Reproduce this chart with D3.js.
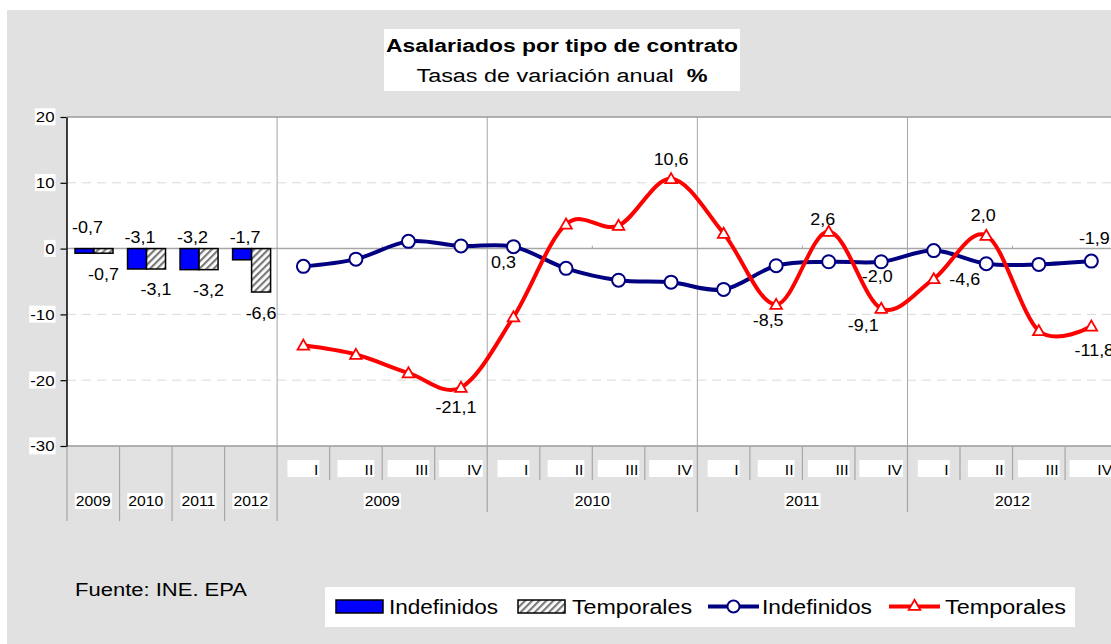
<!DOCTYPE html>
<html>
<head>
<meta charset="utf-8">
<script src="https://cdn.jsdelivr.net/npm/d3@7"></script>
<style>
  html, body { margin: 0; padding: 0; background: #fff; }
  svg { display: block; font-family: "Liberation Sans", Arial, sans-serif; }
</style>
</head>
<body>
<svg id="chart" width="1111" height="644"></svg>
<script>
'use strict';
// ---- data ----
const years = ['2009', '2010', '2011', '2012'];
const quarters = ['I', 'II', 'III', 'IV'];
const annualIndef = [-0.7, -3.1, -3.2, -1.7];
const annualTemp = [-0.7, -3.1, -3.2, -6.6];
const quarterIndef = [-2.7, -1.6, 1.1, 0.4, 0.3, -3.0, -4.8, -5.1, -6.2, -2.6, -2.0, -2.0, -0.3, -2.3, -2.4, -1.9];
const quarterTemp = [-14.7, -16.1, -18.9, -21.1, -10.4, 3.7, 3.5, 10.6, 2.3, -8.5, 2.6, -9.1, -4.6, 2.0, -12.5, -11.8];
const yTicks = [-30, -20, -10, 0, 10, 20];

// which line points carry a value label, and where it sits (offset from point)
const lineLabels = [
  { s: 'temp', q: 3, dx: -5, dy: 20 },
  { s: 'temp', q: 7, dx: 0, dy: -19 },
  { s: 'temp', q: 9, dx: -8, dy: 16 },
  { s: 'temp', q: 10, dx: -6, dy: -12 },
  { s: 'temp', q: 11, dx: -18, dy: 17 },
  { s: 'temp', q: 12, dx: 31, dy: 1 },
  { s: 'temp', q: 13, dx: -3, dy: -20 },
  { s: 'temp', q: 15, dx: 3, dy: 24 },
  { s: 'ind', q: 4, dx: -10, dy: 16 },
  { s: 'ind', q: 11, dx: -4, dy: 15 },
  { s: 'ind', q: 15, dx: 3, dy: -23 }
];

const W = 1111, H = 644;
const PLOT_L = 67, PLOT_T = 117, PLOT_B = 446, STEP = 52.53;
const NAVY = '#000080', RED = '#ff0000';
const STRETCH = 1.12;   // the reference text is a bit wider than plain Arial

const fmt = v => d3.format('.1f')(v).replace('.', ',').replace('\u2212', '-');

function stretch(sel, k = STRETCH) {
  sel.each(function() {
    const w = this.getComputedTextLength();
    this.setAttribute('textLength', w * k);
    this.setAttribute('lengthAdjust', 'spacingAndGlyphs');
  });
  return sel;
}
function fitTo(sel, len) {
  sel.attr('textLength', len).attr('lengthAdjust', 'spacingAndGlyphs');
  return sel;
}

// text with a white box behind it
function boxedText(g, txt, x, y, size, anchor, pad) {
  const r = g.append('rect').attr('fill', '#fff');
  const t = g.append('text')
    .attr('x', x).attr('y', y)
    .attr('font-size', size)
    .attr('text-anchor', anchor)
    .text(txt);
  stretch(t);
  const b = t.node().getBBox();
  r.attr('x', b.x - pad[0]).attr('y', b.y + pad[1])
    .attr('width', b.width + pad[0] + pad[2])
    .attr('height', b.height - pad[1] + pad[3]);
  return t;
}

const svg = d3.select('#chart');

// background
svg.append('rect')
  .attr('x', 7).attr('y', 10)
  .attr('width', W - 7).attr('height', H - 10)
  .attr('fill', '#e1e1e1');

const defs = svg.append('defs');
const pat = defs.append('pattern')
  .attr('id', 'hatch')
  .attr('patternUnits', 'userSpaceOnUse')
  .attr('width', 5).attr('height', 5)
  .attr('patternTransform', 'rotate(45)');
pat.append('rect').attr('width', 5).attr('height', 5).attr('fill', '#fff');
pat.append('line')
  .attr('x1', 1).attr('y1', 0).attr('x2', 1).attr('y2', 5)
  .attr('stroke', '#7a7a7a').attr('stroke-width', 2.4);

// scales
const x = d3.scaleBand().domain(d3.range(20)).range([PLOT_L, PLOT_L + 20 * STEP]);
const y = d3.scaleLinear().domain([-30, 20]).range([PLOT_B, PLOT_T]);
const sub = d3.scaleBand().domain(['ind', 'temp']).range([8, 46]);
const qx = q => x(4 + q) + x.bandwidth() / 2;
const y0 = y(0);

// title
svg.append('rect')
  .attr('x', 384).attr('y', 29).attr('width', 356).attr('height', 62)
  .attr('fill', '#fff');
fitTo(svg.append('text')
  .attr('x', 562).attr('y', 52)
  .attr('text-anchor', 'middle')
  .attr('font-size', 18).attr('font-weight', 'bold')
  .text('Asalariados por tipo de contrato'), 352);
const sTitle = svg.append('text')
  .attr('x', 562).attr('y', 82)
  .attr('text-anchor', 'middle')
  .attr('font-size', 18)
  .attr('xml:space', 'preserve');
sTitle.append('tspan').text('Tasas de variación anual  ');
sTitle.append('tspan').attr('font-weight', 'bold').text('%');
fitTo(sTitle, 291);

// plot area
svg.append('rect')
  .attr('x', PLOT_L).attr('y', PLOT_T)
  .attr('width', W - PLOT_L).attr('height', PLOT_B - PLOT_T)
  .attr('fill', '#fff');

// dashed gridlines
svg.append('g').selectAll('line')
  .data(yTicks.filter(v => v !== 0 && v !== -30 && v !== 20))
  .join('line')
  .attr('x1', PLOT_L).attr('x2', W)
  .attr('y1', d => y(d)).attr('y2', d => y(d))
  .attr('stroke', '#d9d9d9').attr('stroke-width', 1)
  .attr('stroke-dasharray', '9,6');

// year separators inside the plot
const yearStarts = [4, 8, 12, 16];
svg.append('g').selectAll('line')
  .data(yearStarts)
  .join('line')
  .attr('x1', d => x(d)).attr('x2', d => x(d))
  .attr('y1', PLOT_T).attr('y2', PLOT_B)
  .attr('stroke', '#a6a6a6').attr('stroke-width', 1);

// top border and zero line
svg.append('line')
  .attr('x1', PLOT_L).attr('x2', W).attr('y1', PLOT_T).attr('y2', PLOT_T)
  .attr('stroke', '#9a9a9a').attr('stroke-width', 1.5);
svg.append('line')
  .attr('x1', PLOT_L).attr('x2', W).attr('y1', y0).attr('y2', y0)
  .attr('stroke', '#a6a6a6').attr('stroke-width', 1.5);
// mid-year ticks on the zero line
svg.append('g').selectAll('line')
  .data([6, 10, 14, 18])
  .join('line')
  .attr('x1', d => x(d)).attr('x2', d => x(d))
  .attr('y1', y0 - 3).attr('y2', y0)
  .attr('stroke', '#a6a6a6');

// category axis
svg.append('line')
  .attr('x1', PLOT_L).attr('x2', W).attr('y1', PLOT_B).attr('y2', PLOT_B)
  .attr('stroke', '#9a9a9a').attr('stroke-width', 1.5);
const sep = svg.append('g').attr('stroke', '#a6a6a6').attr('stroke-width', 1.2);
d3.range(0, 20).forEach(i => {
  let len;
  if (i <= 4) len = 75;
  else if (i % 4 === 0) len = 66;
  else len = 34;
  sep.append('line')
    .attr('x1', x(i)).attr('x2', x(i))
    .attr('y1', PLOT_B).attr('y2', PLOT_B + len);
});

const catG = svg.append('g');
years.forEach((yr, i) => {
  boxedText(catG, yr, x(i) + x.bandwidth() / 2, 506, 14, 'middle', [1, 0, 1, 0]);
});
years.forEach((yr, k) => {
  boxedText(catG, yr, x(4 + 4 * k) + 2 * STEP, 506, 14, 'middle', [1, 0, 1, 0]);
});
d3.range(16).forEach(q => {
  const cx = qx(q);
  const t = catG.append('text')
    .attr('font-size', 14).attr('text-anchor', 'end')
    .attr('y', 475)
    .text(quarters[q % 4]);
  stretch(t);
  const tw = t.node().getComputedTextLength() * STRETCH;
  const bw = tw + 27;
  t.attr('x', cx + bw / 2 - 1);
  catG.insert('rect', 'text')
    .attr('x', cx - bw / 2).attr('y', 460)
    .attr('width', bw).attr('height', 17)
    .attr('fill', '#fff');
});

// y axis
const yAxis = svg.append('g')
  .attr('transform', `translate(${PLOT_L - 0.5},0)`)
  .call(d3.axisLeft(y).tickValues(yTicks).tickSize(6).tickSizeOuter(0).tickPadding(6)
    .tickFormat(d => String(d)));
yAxis.select('.domain').attr('stroke', '#000').attr('stroke-width', 1.5);
yAxis.selectAll('.tick line').attr('stroke', '#000').attr('stroke-width', 1.2);
yAxis.selectAll('.tick text')
  .attr('font-size', 15).attr('fill', '#000')
  .attr('font-family', '"Liberation Sans", Arial, sans-serif')
  .call(stretch);
yAxis.selectAll('.tick').each(function() {
  const t = d3.select(this).select('text');
  const b = t.node().getBBox();
  d3.select(this).insert('rect', 'text')
    .attr('x', b.x - 1).attr('y', b.y)
    .attr('width', b.width + 2).attr('height', b.height)
    .attr('fill', '#fff');
});

// annual bars
const bars = svg.append('g');
years.forEach((yr, i) => {
  const vi = annualIndef[i], vt = annualTemp[i];
  bars.append('rect')
    .attr('x', x(i) + sub('ind')).attr('width', sub.bandwidth())
    .attr('y', Math.min(y0, y(vi))).attr('height', Math.abs(y(vi) - y0))
    .attr('fill', '#0000ff').attr('stroke', '#000').attr('stroke-width', 1.5);
  bars.append('rect')
    .attr('x', x(i) + sub('temp')).attr('width', sub.bandwidth())
    .attr('y', Math.min(y0, y(vt))).attr('height', Math.abs(y(vt) - y0))
    .attr('fill', 'url(#hatch)').attr('stroke', '#000').attr('stroke-width', 1.5);
});
const barLabelLift = [21, 11, 11, 11];
years.forEach((yr, i) => {
  stretch(bars.append('text')
    .attr('x', x(i) + sub('ind') + sub.bandwidth() / 2 + 3)
    .attr('y', y0 - barLabelLift[i] + 5.5)
    .attr('text-anchor', 'middle').attr('font-size', 16)
    .text(fmt(annualIndef[i])));
  stretch(bars.append('text')
    .attr('x', x(i) + sub('temp') + sub.bandwidth() / 2)
    .attr('y', y(annualTemp[i]) + 26.5)
    .attr('text-anchor', 'middle').attr('font-size', 16)
    .text(fmt(annualTemp[i])));
});

// quarterly lines
const line = d3.line()
  .x((d, i) => qx(i))
  .y(d => y(d))
  .curve(d3.curveCardinal.tension(0));

const indG = svg.append('g');
indG.append('path')
  .attr('d', line(quarterIndef))
  .attr('fill', 'none').attr('stroke', NAVY).attr('stroke-width', 4)
  .attr('stroke-linejoin', 'round');
indG.selectAll('circle')
  .data(quarterIndef)
  .join('circle')
  .attr('cx', (d, i) => qx(i)).attr('cy', d => y(d))
  .attr('r', 6.5)
  .attr('fill', '#fff').attr('stroke', NAVY).attr('stroke-width', 2);

const triangle = d3.symbol().type(d3.symbolTriangle).size(58);
const tempG = svg.append('g');
tempG.append('path')
  .attr('d', line(quarterTemp))
  .attr('fill', 'none').attr('stroke', RED).attr('stroke-width', 4)
  .attr('stroke-linejoin', 'round');
tempG.selectAll('.mk')
  .data(quarterTemp)
  .join('path')
  .attr('class', 'mk')
  .attr('transform', (d, i) => `translate(${qx(i)},${y(d) + 1})`)
  .attr('d', triangle)
  .attr('fill', '#fff').attr('stroke', RED).attr('stroke-width', 1.8);

// line value labels
const series = { ind: quarterIndef, temp: quarterTemp };
const lblG = svg.append('g');
lineLabels.forEach(l => {
  const v = series[l.s][l.q];
  stretch(lblG.append('text')
    .attr('x', qx(l.q) + l.dx)
    .attr('y', y(v) + l.dy + 5.5)
    .attr('text-anchor', 'middle').attr('font-size', 16)
    .text(fmt(v)));
});

// source
fitTo(svg.append('text')
  .attr('x', 75).attr('y', 596)
  .attr('font-size', 18)
  .text('Fuente: INE. EPA'), 172);

// legend
const leg = svg.append('g');
leg.append('rect')
  .attr('x', 325).attr('y', 587).attr('width', 750).attr('height', 40)
  .attr('fill', '#fff');
const legendItems = [
  { kind: 'bar', fill: '#0000ff', label: 'Indefinidos' },
  { kind: 'bar', fill: 'url(#hatch)', label: 'Temporales' },
  { kind: 'line', color: NAVY, marker: 'circle', label: 'Indefinidos' },
  { kind: 'line', color: RED, marker: 'triangle', label: 'Temporales' }
];
// swatch left, text left, text length (px) for each entry
const legendSlots = [[336, 389, 109], [518, 572, 120], [708, 762, 110], [889, 945, 121]];
const ly = 606.5;
legendItems.forEach((it, k) => {
  const [sx, tx, tl] = legendSlots[k];
  if (it.kind === 'bar') {
    leg.append('rect')
      .attr('x', sx).attr('y', 600).attr('width', 47).attr('height', 13)
      .attr('fill', it.fill).attr('stroke', '#000').attr('stroke-width', 1.5);
  } else {
    leg.append('line')
      .attr('x1', sx).attr('x2', sx + 51).attr('y1', ly).attr('y2', ly)
      .attr('stroke', it.color).attr('stroke-width', 4);
    if (it.marker === 'circle') {
      leg.append('circle')
        .attr('cx', sx + 25.5).attr('cy', ly).attr('r', 6)
        .attr('fill', '#fff').attr('stroke', it.color).attr('stroke-width', 2);
    } else {
      leg.append('path')
        .attr('transform', `translate(${sx + 25.5},${ly})`)
        .attr('d', triangle)
        .attr('fill', '#fff').attr('stroke', it.color).attr('stroke-width', 1.8);
    }
  }
  fitTo(leg.append('text')
    .attr('x', tx).attr('y', 614)
    .attr('font-size', 20)
    .text(it.label), tl);
});
</script>
</body>
</html>
